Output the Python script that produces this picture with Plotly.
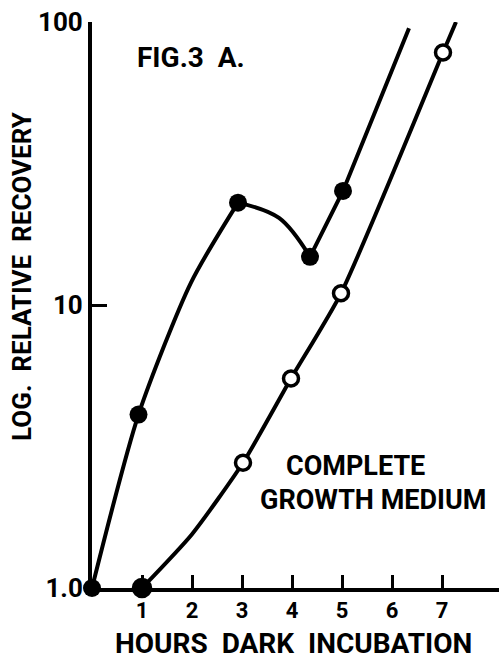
import plotly.graph_objects as go

# Relative recovery (log scale) against hours of dark incubation
# Upper curve: measured points (filled circles)
dark_hours = [0.0, 0.93, 2.92, 4.36, 5.02]
dark_recovery = [1.0, 4.1, 23.0, 14.8, 25.3]

# Guide points of the drawn upper curve, split into its three strokes
rise_x = [0.0, 0.93, 1.98, 2.92]
rise_y = [1.0, 4.1, 12.0, 23.0]
dip_x = [2.92, 3.74, 4.36]
dip_y = [23.0, 20.3, 14.8]
climb_x = [4.36, 5.02, 6.34]
climb_y = [14.8, 25.3, 95.0]

# Lower curve: complete growth medium (open circles, first point filled)
medium_hours = [1.0, 3.02, 3.98, 4.98, 7.02]
medium_recovery = [1.0, 2.77, 5.5, 11.0, 78.0]
medium_curve_x = [1.0, 2.0, 3.02, 3.98, 4.98, 7.02, 7.28]
medium_curve_y = [1.0, 1.55, 2.77, 5.5, 11.0, 78.0, 100.0]

x_ticks = [1, 2, 3, 4, 5, 6, 7]
y_ticks = [1, 10, 100]
y_tick_text = ["1.0", "10", "100"]

FONT = "Roboto, sans-serif"
INK = "black"
LW = 4

fig = go.Figure()

for xs, ys, shape, smooth in [(rise_x, rise_y, "spline", 0.7),
                              (dip_x, dip_y, "spline", 1.0),
                              (climb_x, climb_y, "linear", 1.0),
                              (medium_curve_x, medium_curve_y, "spline", 0.6)]:
    fig.add_trace(go.Scatter(
        x=xs, y=ys, mode="lines",
        line=dict(color=INK, width=LW, shape=shape, smoothing=smooth),
        cliponaxis=False, hoverinfo="skip", showlegend=False,
    ))

fig.add_trace(go.Scatter(
    x=dark_hours, y=dark_recovery, mode="markers",
    marker=dict(size=18, color=INK, opacity=1, line=dict(color=INK, width=0)),
    cliponaxis=False, showlegend=False,
))

fig.add_trace(go.Scatter(
    x=medium_hours, y=medium_recovery, mode="markers",
    marker=dict(size=[17, 15, 15, 15, 15], opacity=1,
                color=[INK, "white", "white", "white", "white"],
                line=dict(color=INK, width=3.5)),
    cliponaxis=False, showlegend=False,
))

fig.update_xaxes(
    range=[0, 8.14], showline=True, linewidth=LW, linecolor=INK,
    ticks="inside", ticklen=13, tickwidth=3, tickcolor=INK,
    tickvals=x_ticks, showgrid=False, zeroline=False,
    tickfont=dict(family=FONT, size=22, color=INK, weight="bold"),
)
fig.update_yaxes(
    type="log", range=[0, 2.0], showline=True, linewidth=LW, linecolor=INK,
    ticks="inside", ticklen=15, tickwidth=3, tickcolor=INK,
    tickvals=y_ticks, ticktext=y_tick_text, showgrid=False, zeroline=False,
    tickfont=dict(family=FONT, size=26, color=INK, weight="bold"),
)

def label(text, x, y, size, angle=0):
    fig.add_annotation(
        text=text, x=x, y=y, xref="paper", yref="paper",
        showarrow=False, textangle=angle,
        font=dict(family=FONT, size=size, color=INK, weight="bold"),
        xanchor="center", yanchor="middle",
    )

W0, W = 92, 407
H0, H = 588, 566

def px(xp):
    return (xp - W0) / W

def py(yp):
    return (H0 - yp) / H

label("FIG.3  A.", px(191), py(57), 28)
label("COMPLETE", px(355), py(466), 27)
label("GROWTH MEDIUM", px(373), py(500), 27)
label("HOURS  DARK  INCUBATION", px(293), py(643), 28)
label("LOG.  RELATIVE  RECOVERY", px(22), py(276), 26, angle=-90)

fig.update_layout(
    width=504, height=662,
    margin=dict(l=92, r=5, t=22, b=74),
    paper_bgcolor="white", plot_bgcolor="white",
)

fig.write_html("out.html")
